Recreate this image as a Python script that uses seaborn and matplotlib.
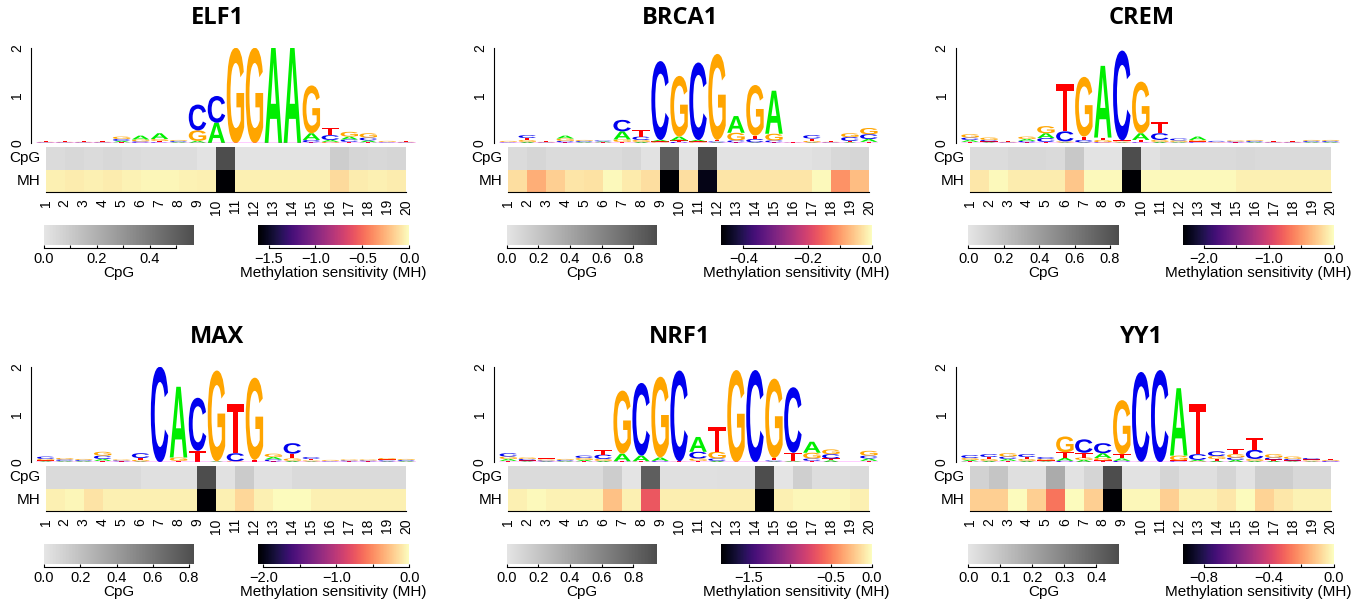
import numpy as np
import pandas as pd
import seaborn as sns
import matplotlib
matplotlib.use('Agg')
import matplotlib.pyplot as plt
from matplotlib.colors import LinearSegmentedColormap
from matplotlib.font_manager import FontProperties
from matplotlib.patches import PathPatch
from matplotlib.textpath import TextPath
from matplotlib.transforms import Affine2D

MOTIFS = ['ELF1', 'BRCA1', 'CREM', 'MAX', 'NRF1', 'YY1']
POSITIONS = list(range(1, 21))
BASES = ['A', 'C', 'G', 'T']

# letter heights (bits) per position
ELF1_A = [.01, .01, .01, .01, .03, .08, .12, .02, .04, .43, 0, 0, 2.0, 2.0, .14, .04, .06, .04, .01, .01]
ELF1_C = [.01, .01, .01, .01, .04, .03, .02, .02, .54, .56, 0, 0, 0, 0, .05, .10, .05, .06, .01, .01]
ELF1_G = [.01, .01, .01, .01, .05, .04, .04, .02, .22, 0, 2.0, 2.0, 0, 0, 1.0, .03, .10, .09, .02, .01]
ELF1_T = [.01, .01, .01, .01, .02, .01, .03, .01, .01, 0, 0, 0, 0, 0, .02, .15, .03, .02, .01, .01]

BRCA1_A = [.01, .03, .01, .06, .02, .02, .17, .03, .03, .08, .03, .02, .35, .02, .90, .005, .02, .01, .02, .06]
BRCA1_C = [.01, .06, .01, .03, .02, .02, .24, .07, 1.65, .03, 1.62, .02, .04, .07, .04, .005, .07, .01, .08, .10]
BRCA1_G = [.02, .04, .01, .05, .02, .01, .05, .04, .02, 1.27, .02, 1.80, .16, 1.06, .14, .005, .03, .01, .08, .13]
BRCA1_T = [.01, .04, .01, .02, .01, .01, .03, .14, .02, .03, .02, .03, .02, .07, .02, .005, .05, .01, .03, .03]

CREM_A = [.04, .02, .01, .04, .10, .02, .02, 1.50, .02, .14, .03, .02, .07, .01, .01, .02, .01, .01, .02, .02]
CREM_C = [.05, .03, .01, .03, .08, .21, .05, .02, 1.88, .02, .14, .04, .02, .02, .02, .02, .01, .01, .02, .02]
CREM_G = [.07, .05, .01, .05, .15, .02, 1.25, .05, .02, 1.08, .04, .03, .03, .01, .02, .02, .01, .01, .02, .02]
CREM_T = [.03, .02, .01, .02, .03, 1.00, .07, .05, .02, .05, .23, .01, .02, .01, .01, .01, .01, .01, .01, .01]

MAX_A = [.02, .02, .02, .04, .01, .02, 0, 1.48, 0, .02, 0, 0, .05, .03, .02, .01, .01, .01, .02, .02]
MAX_C = [.05, .03, .02, .07, .02, .10, 2.0, 0, 1.11, 0, .17, 0, .04, .22, .04, .01, .02, .02, .02, .02]
MAX_G = [.03, .03, .02, .08, .02, .03, 0, .07, 0, 1.9, .02, 1.72, .07, .05, .02, .02, .02, .02, .03, .02]
MAX_T = [.02, .01, .01, .03, .01, .04, 0, .03, .24, 0, 1.02, .05, .02, .10, .03, .01, .01, .01, .02, .01]

NRF1_A = [.04, .02, .02, .02, .03, .03, .16, .12, .07, 0, .31, .03, 0, 0, .02, .02, .23, .04, 0, .05]
NRF1_C = [.07, .03, .02, .02, .05, .09, .01, 1.52, .02, 1.90, .14, .05, 0, 1.93, .02, 1.37, .05, .09, 0, .06]
NRF1_G = [.05, .03, .02, .02, .04, .04, 1.32, .01, 1.69, .01, .05, .14, 1.93, 0, 1.66, .01, .12, .10, 0, .10]
NRF1_T = [.03, .02, .02, .01, .02, .10, .01, .01, .01, .01, .03, .51, 0, 0, .05, .17, .03, .04, .01, .03]

YY1_A = [.03, .03, .04, .03, .02, .06, .05, .10, .05, .01, 0, 1.41, .03, .03, .05, .03, .03, .02, .02, .01]
YY1_C = [.06, .06, .05, .06, .04, .03, .28, .21, .03, 1.88, 1.93, .02, .12, .10, .05, .19, .04, .03, .03, .02]
YY1_G = [.04, .04, .07, .04, .03, .33, .05, .05, 1.13, 0, 0, .10, .02, .06, .07, .04, .07, .05, .02, .02]
YY1_T = [.02, .04, .03, .04, .02, .12, .10, .04, .09, 0, 0, .02, 1.06, .04, .10, .24, .03, .02, .02, .02]

# CpG frequency per dinucleotide step (between positions i and i+1)
ELF1_CPG = [.04, .05, .04, .05, .04, .03, .03, .03, .01, .57, .01, .01, .01, .01, .01, .09, .06, .05, .06]
BRCA1_CPG = [.06, .10, .06, .06, .06, .06, .09, .02, .84, .02, .95, .02, .02, .02, .02, .02, .04, .08, .10]
CREM_CPG = [.05, .05, .07, .07, .06, .16, .01, .01, .85, .02, .06, .06, .06, .06, .07, .06, .06, .06, .06]
MAX_CPG = [.06, .06, .06, .06, .06, .03, .03, .03, .83, .02, .14, .03, .03, .06, .06, .06, .06, .06, .06]
NRF1_CPG = [.06, .06, .06, .06, .06, .15, .01, .84, .03, .03, .03, .04, .04, .95, .01, .14, .05, .05, .06]
YY1_CPG = [.06, .10, .02, .02, .18, .01, .05, .47, .01, .01, .05, .02, .02, .05, .01, .07, .07, .04, .04]

# methylation sensitivity per step
ELF1_MH = [-.05, -.06, -.05, -.06, -.04, -.03, -.03, -.04, -.05, -1.61, -.05, -.05, -.05, -.05, -.05, -.12, -.06, -.05, -.06]
BRCA1_MH = [-.033, -.08, -.047, -.024, -.028, -.005, -.019, -.033, -.47, -.033, -.45, -.024, -.024, -.024, -.024,
            -.024, -.005, -.108, -.066]
CREM_MH = [-.115, -.023, -.09, -.09, -.09, -.28, -.023, -.023, -2.33, -.023, -.023, -.023, -.023, -.023, -.07, -.07,
           -.07, -.07, -.07]
MAX_MH = [-.06, -.04, -.12, -.06, -.06, -.06, -.06, -.06, -2.07, -.06, -.17, -.06, -.01, -.01, -.06, -.06, -.06, -.06,
          -.06]
NRF1_MH = [-.055, -.018, -.046, -.046, -.046, -.24, -.055, -.66, -.064, -.064, -.064, -.064, -.064, -1.84, -.055,
           -.028, -.028, -.028, -.055]
YY1_MH = [-.093, -.093, -.005, -.093, -.27, -.005, -.093, -.93, -.014, -.014, -.093, -.023, -.023, -.047, -.005,
          -.084, -.047, -.023, -.023]

# colour bar ticks: (all ticks, labelled ticks)
CPG_TICKS = {
    'ELF1': ([0, .1, .2, .3, .4, .5], [0, .2, .4]),
    'BRCA1': ([0, .2, .4, .6, .8], [0, .2, .4, .6, .8]),
    'CREM': ([0, .2, .4, .6, .8], [0, .2, .4, .6, .8]),
    'MAX': ([0, .2, .4, .6, .8], [0, .2, .4, .6, .8]),
    'NRF1': ([0, .2, .4, .6, .8], [0, .2, .4, .6, .8]),
    'YY1': ([0, .1, .2, .3, .4], [0, .1, .2, .3, .4]),
}
MH_TICKS = {
    'ELF1': ([-1.5, -1.0, -.5, 0], [-1.5, -1.0, -.5, 0]),
    'BRCA1': ([-.4, -.3, -.2, -.1, 0], [-.4, -.2, 0]),
    'CREM': ([-2.0, -1.5, -1.0, -.5, 0], [-2.0, -1.0, 0]),
    'MAX': ([-2.0, -1.5, -1.0, -.5, 0], [-2.0, -1.0, 0]),
    'NRF1': ([-1.5, -1.0, -.5, 0], [-1.5, -.5, 0]),
    'YY1': ([-.8, -.6, -.4, -.2, 0], [-.8, -.4, 0]),
}

g = globals()
LOGO = {m: {b: g[f'{m}_{b}'] for b in BASES} for m in MOTIFS}
CPG = {m: g[f'{m}_CPG'] for m in MOTIFS}
MH = {m: g[f'{m}_MH'] for m in MOTIFS}

BASE_COLORS = {'A': '#00ee00', 'C': '#0000ee', 'G': '#ffa500', 'T': '#ff0000'}
CPG_CMAP = LinearSegmentedColormap.from_list('cpg', ['#e5e5e5', '#4d4d4d'])
LETTER_FONT = FontProperties(family='Liberation Sans', weight='bold')
GLYPHS = {b: TextPath((0, 0), b, size=1, prop=LETTER_FONT) for b in BASES}

W, H = 1364, 601
HEAT_X = [45.7, 508.3, 970.0]
HEAT_W = 360.5
ROW_DY = [0, 319]


def fmt(v):
    return f'{v:.1f}'.replace('-', '\u2212')


def px_axes(fig, left, top, width, height):
    return fig.add_axes([left / W, 1 - (top + height) / H, width / W, height / H])


def draw_letter(ax, base, x, y, h, w=0.92):
    path = GLYPHS[base]
    bb = path.get_extents()
    t = (Affine2D().translate(-bb.x0, -bb.y0)
         .scale(w / bb.width, h / bb.height)
         .translate(x - w / 2, y))
    ax.add_patch(PathPatch(t.transform_path(path), fc=BASE_COLORS[base], ec='none', lw=0))


def draw_logo(ax, name):
    heights = LOGO[name]
    for i, pos in enumerate(POSITIONS):
        stack = sorted(BASES, key=lambda b: heights[b][i])
        y = 0
        for b in stack:
            h = heights[b][i]
            if h > 0:
                draw_letter(ax, b, pos, y, h)
                y += h
    ax.axhline(0, color='#ff00ff', lw=1.0, zorder=3)
    ax.set_xlim(0.5, 20.5)
    ax.set_ylim(0, 2)
    for side in ('top', 'right', 'bottom'):
        ax.spines[side].set_visible(False)
    ax.spines['left'].set_position(('outward', 3.6))
    ax.spines['left'].set_bounds(0, 2)
    ax.spines['left'].set_linewidth(0.8)
    ax.spines['left'].set_color('black')
    ax.set_xticks([])
    ax.set_yticks([0, 1, 2])
    ax.set_yticklabels(['0', '1', '2'], rotation=90, va='center')
    ax.tick_params(axis='y', length=3, width=0.8, pad=2, labelsize=10, colors='black')
    ax.patch.set_visible(False)


def style_cbar(cbar, ticks, labelled, label):
    cbar.outline.set_visible(False)
    cbar.set_ticks(ticks, labels=[fmt(t) if any(abs(t - s) < 1e-9 for s in labelled) else '' for t in ticks])
    cax = cbar.ax
    cax.tick_params(axis='x', direction='in', length=2.2, width=0.8, pad=3, labelsize=10.5, colors='black')
    sp = cax.spines['bottom']
    sp.set_visible(True)
    sp.set_position(('outward', 2.2))
    sp.set_bounds(ticks[0], ticks[-1])
    sp.set_linewidth(0.8)
    sp.set_color('black')
    cbar.set_label(label, fontsize=11, labelpad=0, color='black')


def draw_panel(fig, name, col, row):
    hx = HEAT_X[col]
    dy = ROW_DY[row]
    cell = HEAT_W / 19

    logo_ax = px_axes(fig, hx - cell / 2, 47.7 + dy, HEAT_W + cell, 95.6)
    draw_logo(logo_ax, name)

    hax = px_axes(fig, hx, 147 + dy, HEAT_W, 45.3)
    cax1 = px_axes(fig, hx - 1.7, 225 + dy, 150.5, 19.5)
    cax2 = px_axes(fig, hx + 212.5, 225 + dy, 151, 19.5)

    cpg, mh = CPG[name], MH[name]
    df = pd.DataFrame([cpg, mh], index=['CpG', 'MH'], columns=POSITIONS[:-1])
    mask_cpg = np.array([[False] * 19, [True] * 19])
    sns.heatmap(df, mask=mask_cpg, cmap=CPG_CMAP, vmin=0, vmax=max(cpg), ax=hax,
                cbar_ax=cax1, cbar_kws={'orientation': 'horizontal'})
    sns.heatmap(df, mask=~mask_cpg, cmap='magma', vmin=min(mh), vmax=0, ax=hax,
                cbar_ax=cax2, cbar_kws={'orientation': 'horizontal'})

    hax.set_xticks(np.arange(20))
    hax.set_xticklabels([str(p) for p in POSITIONS], rotation=90, fontsize=10)
    hax.set_yticks([0.5, 1.5])
    hax.set_yticklabels(['CpG', 'MH'], rotation=0, fontsize=11)
    hax.tick_params(axis='x', length=3, width=0.8, pad=2, colors='black')
    hax.tick_params(axis='y', length=0, pad=4, colors='black')
    hax.set_xlabel('')
    hax.set_ylabel('')
    hax.spines['bottom'].set_visible(True)
    hax.spines['bottom'].set_linewidth(0.8)
    hax.spines['bottom'].set_color('black')

    style_cbar(hax.collections[0].colorbar, *CPG_TICKS[name], 'CpG')
    style_cbar(hax.collections[1].colorbar, *MH_TICKS[name], 'Methylation sensitivity (MH)')

    fig.text((hx + HEAT_W / 2 - 8.5) / W, 1 - (18 + dy) / H, name, ha='center', va='center',
             fontsize=17, fontweight='bold', family='Open Sans', color='black')


def main():
    sns.set_theme(style='white')
    plt.rcParams['font.family'] = ['Liberation Sans', 'DejaVu Sans']
    plt.rcParams['text.color'] = 'black'
    plt.rcParams['axes.labelcolor'] = 'black'
    fig = plt.figure(figsize=(W / 100, H / 100), dpi=100)
    for k, name in enumerate(MOTIFS):
        draw_panel(fig, name, k % 3, k // 3)
    fig.savefig('out.png', dpi=100, facecolor='white')


if __name__ == '__main__':
    main()
